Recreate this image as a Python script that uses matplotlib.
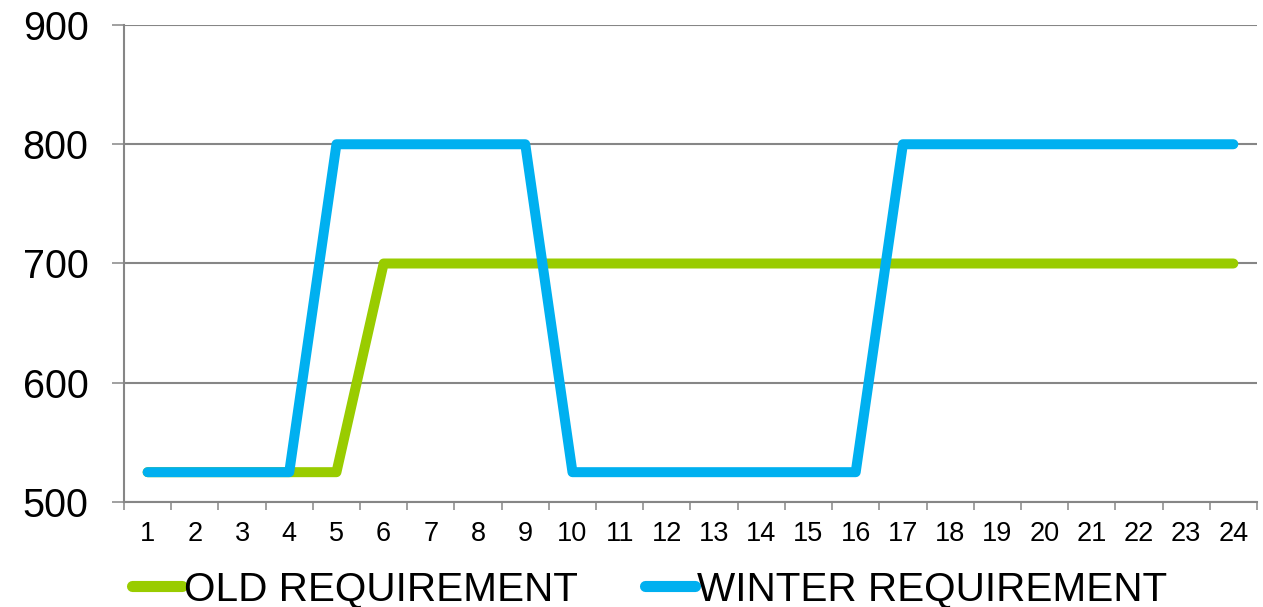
""" Old vs winter requirement by hour """

import matplotlib as mpl
import matplotlib.pyplot as plt
from matplotlib.ticker import FixedLocator

mpl.rcParams['font.family'] = ['Liberation Sans', 'DejaVu Sans']

# data

hours = list(range(1, 25))
old_requirement = [525, 525, 525, 525, 525] + [700] * 19
winter_requirement = ([525] * 4 + [800] * 5 + [525] * 7 + [800] * 8)
y_ticks = [500, 600, 700, 800, 900]

GREEN = '#99CC00'
BLUE = '#00B0F0'
GRAY = '#868686'

# figure design

fig = plt.figure(figsize=(12.63, 6.07), dpi=100)
ax = fig.add_axes([0.0982, 0.173, 0.8970, 0.7858])

ax.plot(hours, old_requirement, color=GREEN, linewidth=7.2,
        solid_capstyle='round', solid_joinstyle='round',
        label='OLD REQUIREMENT')
ax.plot(hours, winter_requirement, color=BLUE, linewidth=7.2,
        solid_capstyle='round', solid_joinstyle='round',
        label='WINTER REQUIREMENT')

ax.set_xlim(0.5, 24.5)
ax.set_ylim(500, 900)
ax.set_yticks(y_ticks)
ax.set_xticks(hours)
ax.xaxis.set_minor_locator(FixedLocator([h - 0.5 for h in hours] + [24.5]))

for s in ['top', 'right']:
    ax.spines[s].set_visible(False)
for s in ['left', 'bottom']:
    ax.spines[s].set_color(GRAY)
    ax.spines[s].set_linewidth(1.5)

ax.grid(axis='y', color=GRAY, linewidth=1.5)
ax.set_axisbelow(True)

ax.tick_params(axis='y', which='major', length=8.6, width=1.1, color=GRAY,
               pad=17, labelsize=28.5)
ax.tick_params(axis='x', which='major', length=0, pad=14, labelsize=19.5)
ax.tick_params(axis='x', which='minor', length=6, width=1.1, color=GRAY)

# legend

leg = ax.legend(loc='center left', bbox_to_anchor=(0.007, -0.183), ncol=2,
                frameon=False, fontsize=29.2, handlelength=1.23,
                handletextpad=0.05, columnspacing=1.65, borderpad=0,
                borderaxespad=0)
for line in leg.get_lines():
    line.set_linewidth(8)

fig.savefig('out.png', dpi=100)
